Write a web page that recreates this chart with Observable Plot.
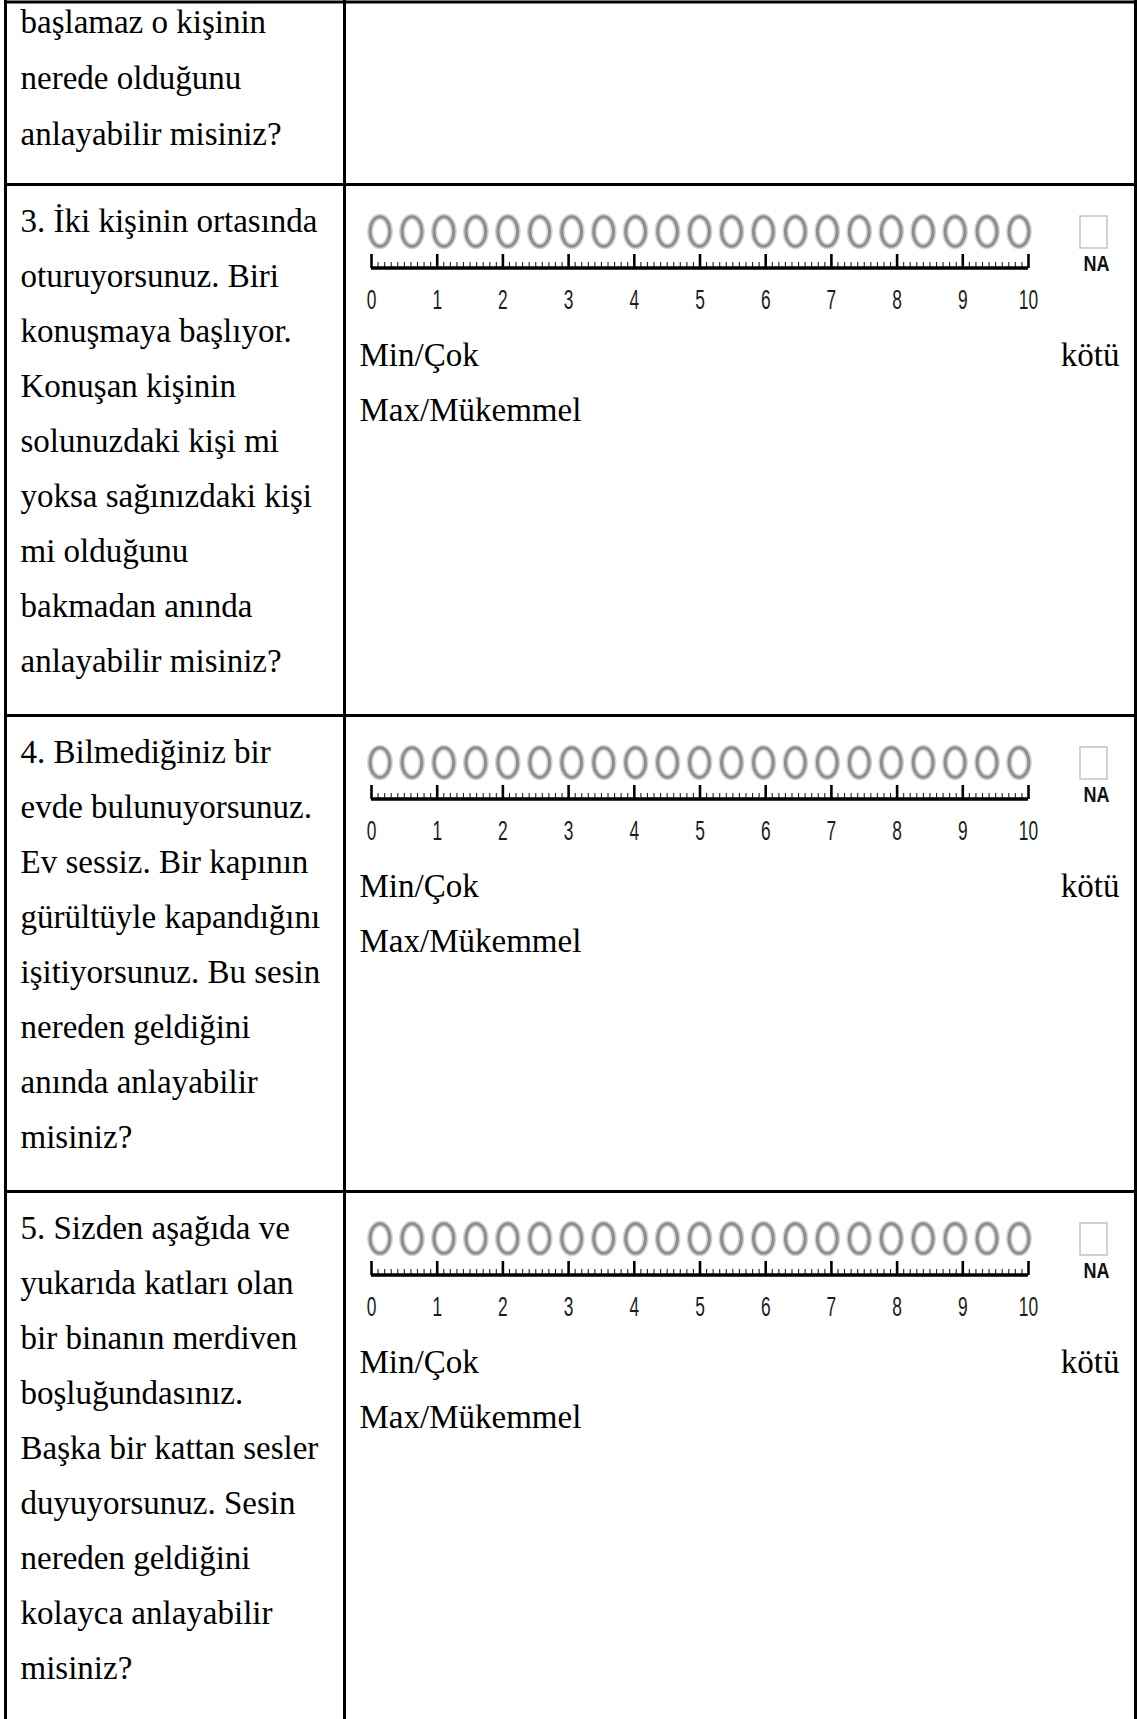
<!DOCTYPE html>
<html>
<head>
<meta charset="utf-8">
<script src="https://cdn.jsdelivr.net/npm/d3@7"></script>
<script src="https://cdn.jsdelivr.net/npm/@observablehq/plot@0.6"></script>
<style>
  html, body { margin: 0; padding: 0; background: #ffffff; overflow: hidden; }
  #chart svg { display: block; }
</style>
</head>
<body>
<div id="chart"></div>
<script>
// ---------- DATA ----------
const topRowLines = ["başlamaz o kişinin", "nerede olduğunu", "anlayabilir misiniz?"];
const q3Lines = ["3. İki kişinin ortasında", "oturuyorsunuz. Biri", "konuşmaya başlıyor.", "Konuşan kişinin",
  "solunuzdaki kişi mi", "yoksa sağınızdaki kişi", "mi olduğunu", "bakmadan anında", "anlayabilir misiniz?"];
const q4Lines = ["4. Bilmediğiniz bir", "evde bulunuyorsunuz.", "Ev sessiz. Bir kapının", "gürültüyle kapandığını",
  "işitiyorsunuz. Bu sesin", "nereden geldiğini", "anında anlayabilir", "misiniz?"];
const q5Lines = ["5. Sizden aşağıda ve", "yukarıda katları olan", "bir binanın merdiven", "boşluğundasınız.",
  "Başka bir kattan sesler", "duyuyorsunuz. Sesin", "nereden geldiğini", "kolayca anlayabilir", "misiniz?"];
const scaleTicks = [0, 1, 2, 3, 4, 5, 6, 7, 8, 9, 10];
const tickLabels = ["0", "1", "2", "3", "4", "5", "6", "7", "8", "9", "10"];
const answerOptions = [0, 0.5, 1, 1.5, 2, 2.5, 3, 3.5, 4, 4.5, 5, 5.5, 6, 6.5, 7, 7.5, 8, 8.5, 9, 9.5, 10];
const minLabel = "Min/Çok";
const worstLabel = "kötü";
const maxLabel = "Max/Mükemmel";
const naLabel = "NA";

// ---------- LAYOUT ----------
const W = 1137, H = 1719;
const LH = 55;                 // line height of the question text
const topRowBottom = 184;
const questionRows = [q3Lines, q4Lines, q5Lines];
let cursor = topRowBottom;
const rowTops = questionRows.map(lines => { const t = cursor; cursor += lines.length * LH + 36; return t; });
const xRange = [371, 1028];    // pixel extent of the 0..10 ruler
const px = d3.scaleLinear([0, 10], xRange);
const X = p => px.invert(p);   // layout pixel -> scale value
const minorTicks = d3.range(0, 101).filter(i => i % 10 !== 0).map(i => i / 10);
const optPos = v => X(379.5) + (v / 10) * (X(1018.5) - X(379.5));

const serif = "'Liberation Serif', 'Times New Roman', Times, serif";
const sans = "'Liberation Sans', Arial, 'DejaVu Sans', sans-serif";

const leftText = [
  ...topRowLines.map((s, i) => ({s, y: 144 - (topRowLines.length - 1 - i) * 56})),
  ...questionRows.flatMap((lines, r) => lines.map((s, i) => ({s, y: rowTops[r] + 47 + i * LH})))
];
const hLines = [1.5, topRowBottom, ...rowTops.slice(1), cursor];
const vLines = [5, 344, 1135].map(X);

const circles = rowTops.flatMap(top => answerOptions.map(v => ({x: optPos(v), y: top + 47})));
const majors = rowTops.flatMap(top => scaleTicks.map(v => ({x: v, y1: top + 70, y2: top + 84})));
const minors = rowTops.flatMap(top => minorTicks.map(v => ({x: v, y1: top + 78, y2: top + 84})));
const labels = rowTops.flatMap(top => scaleTicks.map((v, i) => ({x: v, y: top + 124, s: tickLabels[i]})));
const naBoxes = rowTops.map(top => ({x1: X(1080), x2: X(1107), y1: top + 32, y2: top + 64}));
const naTexts = rowTops.map(top => ({x: X(1096), y: top + 86, s: naLabel}));
const minTexts = rowTops.map(top => ({x: X(359), y: top + 181, s: minLabel}));
const worstTexts = rowTops.map(top => ({x: X(1119), y: top + 181, s: worstLabel}));
const maxTexts = rowTops.map(top => ({x: X(359), y: top + 236, s: maxLabel}));

// ellipse symbol for answer circles
const ellipse = {
  draw(ctx) {
    const rx = 9.9, ry = 14.8, k = 0.5522847;
    ctx.moveTo(rx, 0);
    ctx.bezierCurveTo(rx, ry * k, rx * k, ry, 0, ry);
    ctx.bezierCurveTo(-rx * k, ry, -rx, ry * k, -rx, 0);
    ctx.bezierCurveTo(-rx, -ry * k, -rx * k, -ry, 0, -ry);
    ctx.bezierCurveTo(rx * k, -ry, rx, -ry * k, rx, 0);
    ctx.closePath();
  }
};

const serifText = {text: "s", lineAnchor: "bottom", fontFamily: serif, fontSize: 33, fill: "#000"};

const chart = Plot.plot({
  width: W,
  height: H,
  margin: 0,
  style: {background: "#ffffff"},
  x: {domain: [0, 10], range: xRange, axis: null},
  y: {domain: [0, H], range: [0, H], axis: null},
  marks: [
    // table grid
    Plot.ruleY(hLines, {y: d => d, x1: vLines[0], x2: vLines[2], stroke: "#000", strokeWidth: 3}),
    Plot.ruleX(vLines, {x: d => d, y1: 0, y2: H, stroke: "#000", strokeWidth: 3}),
    // question text
    Plot.text(leftText, {...serifText, frameAnchor: "left", dx: 20, y: "y", textAnchor: "start"}),
    // answer circles (soft halo + ring)
    Plot.dot(circles, {x: "x", y: "y", symbol: ellipse, fill: "none", stroke: "#d4d4d4", strokeWidth: 6}),
    Plot.dot(circles, {x: "x", y: "y", symbol: ellipse, fill: "none", stroke: "#8e8e8e", strokeWidth: 3}),
    // ruler
    Plot.ruleX(minors, {x: "x", y1: "y1", y2: "y2", stroke: "#222", strokeWidth: 1.1}),
    Plot.ruleX(majors, {x: "x", y1: "y1", y2: "y2", stroke: "#000", strokeWidth: 2.6}),
    Plot.ruleY(rowTops, {y: d => d + 83.5, x1: 0, x2: 10, stroke: "#000", strokeWidth: 3.5}),
    Plot.text(labels, {x: "x", y: "y", text: "s", lineAnchor: "bottom", fontFamily: sans, fontSize: 28, fill: "#1c1c1c"}),
    // NA box
    Plot.rect(naBoxes, {x1: "x1", x2: "x2", y1: "y1", y2: "y2", fill: "#fff", stroke: "#c4c4c4", strokeWidth: 1.5}),
    Plot.text(naTexts, {x: "x", y: "y", text: "s", lineAnchor: "bottom", fontFamily: sans, fontWeight: "bold",
      fontSize: 22, fill: "#111"}),
    // anchor labels
    Plot.text(minTexts, {...serifText, x: "x", y: "y", textAnchor: "start"}),
    Plot.text(worstTexts, {...serifText, x: "x", y: "y", textAnchor: "end"}),
    Plot.text(maxTexts, {...serifText, x: "x", y: "y", textAnchor: "start"})
  ]
});

// condense the ruler digits and the NA label horizontally (narrow face of the original form)
d3.select(chart).selectAll("text").each(function () {
  const s = this.textContent;
  const sx = tickLabels.includes(s) ? 0.62 : s === naLabel ? 0.82 : null;
  if (sx === null) return;
  const x = +this.getAttribute("x") || 0, y = +this.getAttribute("y") || 0;
  const t = this.getAttribute("transform") || "";
  this.removeAttribute("x");
  this.removeAttribute("y");
  this.setAttribute("transform", `${t} translate(${x},${y}) scale(${sx},1)`);
});

document.getElementById("chart").append(chart);
</script>
</body>
</html>
